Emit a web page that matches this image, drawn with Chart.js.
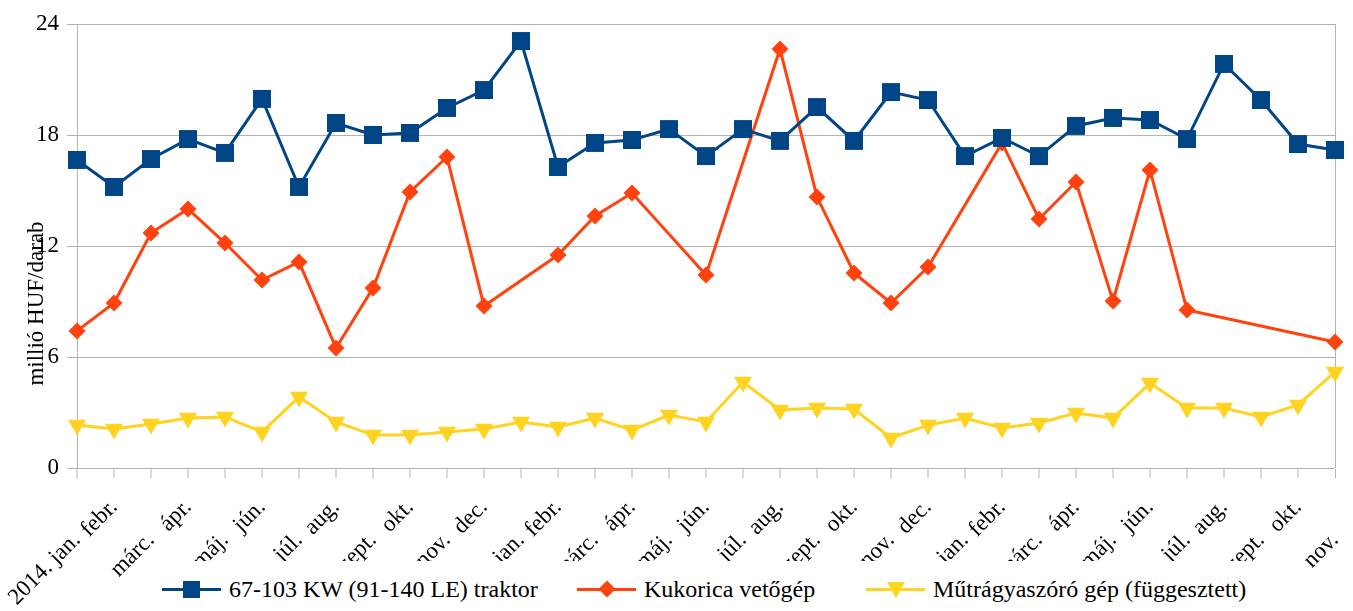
<!DOCTYPE html>
<html>
<head>
<meta charset="utf-8">
<script src="https://cdn.jsdelivr.net/npm/chart.js@4.4.1/dist/chart.umd.min.js"></script>
<style>
  body { margin: 0; background: #fff; }
  #wrap { position: relative; width: 1353px; height: 611px; }
  #legend { position: absolute; left: 155px; top: 561px; width: 1140px; height: 50px; background: #fff;
            font-family: "Liberation Serif", serif; font-size: 24px; color: #000; }
  .item { position: absolute; top: 0; height: 56px; display: flex; align-items: center; white-space: nowrap; }
  .sw { position: relative; width: 59px; height: 3px; margin-right: 8px; }
  .sw span { position: absolute; left: 50%; top: 50%; }
  .sq { width: 17px; height: 17px; margin: -8.5px 0 0 -8.5px; }
  .dm { width: 12px; height: 12px; margin: -6px 0 0 -6px; transform: rotate(45deg); }
  .tr { width: 0; height: 0; margin: -7px 0 0 -9px; border-left: 9px solid transparent; border-right: 9px solid transparent; }
</style>
</head>
<body>
<div id="wrap">
  <canvas id="arak" width="1353" height="611"></canvas>
  <div id="legend">
    <div class="item" style="left:7px"><div class="sw" style="background:#004586"><span class="sq" style="background:#004586"></span></div>67-103 KW (91-140 LE) traktor</div>
    <div class="item" style="left:422px"><div class="sw" style="background:#ff420e"><span class="dm" style="background:#ff420e"></span></div>Kukorica vetőgép</div>
    <div class="item" style="left:711px"><div class="sw" style="background:#ffd320"><span class="tr" style="border-top:16px solid #ffd320"></span></div>Műtrágyaszóró gép (függesztett)</div>
  </div>
</div>
<script>
// havi adatok, 2014. jan. - 2016. nov., millió HUF/darab
const honapok = ["2014. jan.", "febr.", "márc.", "ápr.", "máj.", "jún.", "júl.", "aug.", "szept.", "okt.", "nov.", "dec.",
  "2015. jan.", "febr.", "márc.", "ápr.", "máj.", "jún.", "júl.", "aug.", "szept.", "okt.", "nov.", "dec.",
  "2016. jan.", "febr.", "márc.", "ápr.", "máj.", "jún.", "júl.", "aug.", "szept.", "okt.", "nov."];
const traktor = [16.65, 15.19, 16.70, 17.78, 17.03, 19.95, 15.19, 18.65, 18.00, 18.11, 19.46, 20.43,
  23.08, 16.27, 17.57, 17.73, 18.32, 16.86, 18.32, 17.68, 19.51, 17.68, 20.32, 19.89,
  16.86, 17.84, 16.86, 18.49, 18.92, 18.81, 17.78, 21.84, 19.89, 17.51, 17.19];
const vetogep = [7.41, 8.92, 12.70, 14.00, 12.16, 10.16, 11.14, 6.49, 9.73, 14.92, 16.81, 8.76,
  null, 11.51, 13.62, 14.86, null, 10.43, null, 22.65, 14.65, 10.54, 8.92, 10.86,
  null, 17.57, 13.46, 15.46, 9.03, 16.11, 8.54, null, null, null, 6.81];
const mutragya = [2.32, 2.11, 2.38, 2.70, 2.76, 1.95, 3.84, 2.49, 1.78, 1.78, 1.95, 2.11,
  2.49, 2.22, 2.70, 2.05, 2.86, 2.49, 4.65, 3.14, 3.24, 3.19, 1.62, 2.32,
  2.70, 2.16, 2.43, 2.97, 2.70, 4.59, 3.24, 3.24, 2.76, 3.41, 5.19];
const yTicks = [0, 6, 12, 18, 24];

const betu = { family: "Liberation Serif", size: 23 };
const szurke = "#b3b3b3";

// paratlan honapok felul, parosak alul (lepcsozott feliratok)
function felso(v, i) { return i % 2 === 1 ? this.getLabelForValue(v) : ""; }
function also(v, i) { return i % 2 === 0 ? this.getLabelForValue(v) : ""; }

// a felso sor feliratait ne vagja le a tengely doboza
const nincsVagas = {
  id: "nincsVagas",
  afterLayout: function(chart) { chart.scales.x.bottom = chart.height; }
};

const adatok = {
  labels: honapok,
  datasets: [{
    label: "67-103 KW (91-140 LE) traktor",
    data: traktor,
    borderColor: "#004586",
    backgroundColor: "#004586",
    borderWidth: 3,
    pointStyle: "rect",
    pointRadius: 12.7,
    pointBorderWidth: 0,
    clip: false
  }, {
    label: "Kukorica vetőgép",
    data: vetogep,
    borderColor: "#ff420e",
    backgroundColor: "#ff420e",
    borderWidth: 3,
    pointStyle: "rectRot",
    pointRadius: 8.5,
    pointBorderWidth: 0,
    spanGaps: true,
    clip: false
  }, {
    label: "Műtrágyaszóró gép (függesztett)",
    data: mutragya,
    borderColor: "#ffd320",
    backgroundColor: "#ffd320",
    borderWidth: 3,
    pointStyle: "triangle",
    pointRotation: 180,
    pointRadius: 10.5,
    pointBorderWidth: 0,
    clip: false
  }]
};

const beallitas = {
  type: "line",
  data: adatok,
  plugins: [nincsVagas],
  options: {
    responsive: false,
    animation: false,
    layout: { padding: { top: 24, right: 18, left: 0, bottom: 0 } },
    plugins: { legend: { display: false }, tooltip: { enabled: false } },
    scales: {
      x: {
        type: "category",
        position: "bottom",
        weight: 0,
        offset: false,
        grid: {
          color: szurke,
          lineWidth: function(c) { return c.index === honapok.length - 1 ? 1 : 0; },
          tickColor: szurke,
          tickWidth: 1,
          tickLength: 10
        },
        border: { color: szurke },
        ticks: { autoSkip: false, minRotation: 45, maxRotation: 45, padding: 16, font: betu, color: "#000", callback: felso },
        afterFit: function(s) { s.height = 40; s.paddingLeft = 0; s.paddingRight = 0; }
      },
      x2: {
        type: "category",
        position: "bottom",
        weight: 1,
        offset: false,
        grid: { display: false, drawTicks: false },
        border: { display: false },
        ticks: { autoSkip: false, minRotation: 45, maxRotation: 45, padding: 19, font: betu, color: "#000", callback: also },
        afterFit: function(s) { s.height = 611 - 468 - 40; s.paddingLeft = 0; s.paddingRight = 0; }
      },
      y: {
        min: 0,
        max: 24,
        afterBuildTicks: function(s) { s.ticks = yTicks.map(function(v) { return { value: v }; }); },
        grid: { color: szurke, tickLength: 10 },
        border: { color: szurke },
        ticks: { padding: 8, font: betu, color: "#000" },
        title: {
          display: true,
          text: "millió HUF/darab" + "\u2003".repeat(5),
          font: betu,
          color: "#000",
          padding: { top: 23, bottom: 0 }
        },
        afterFit: function(s) { s.width = 77; }
      }
    }
  }
};

new Chart(document.getElementById("arak"), beallitas);
</script>
</body>
</html>
